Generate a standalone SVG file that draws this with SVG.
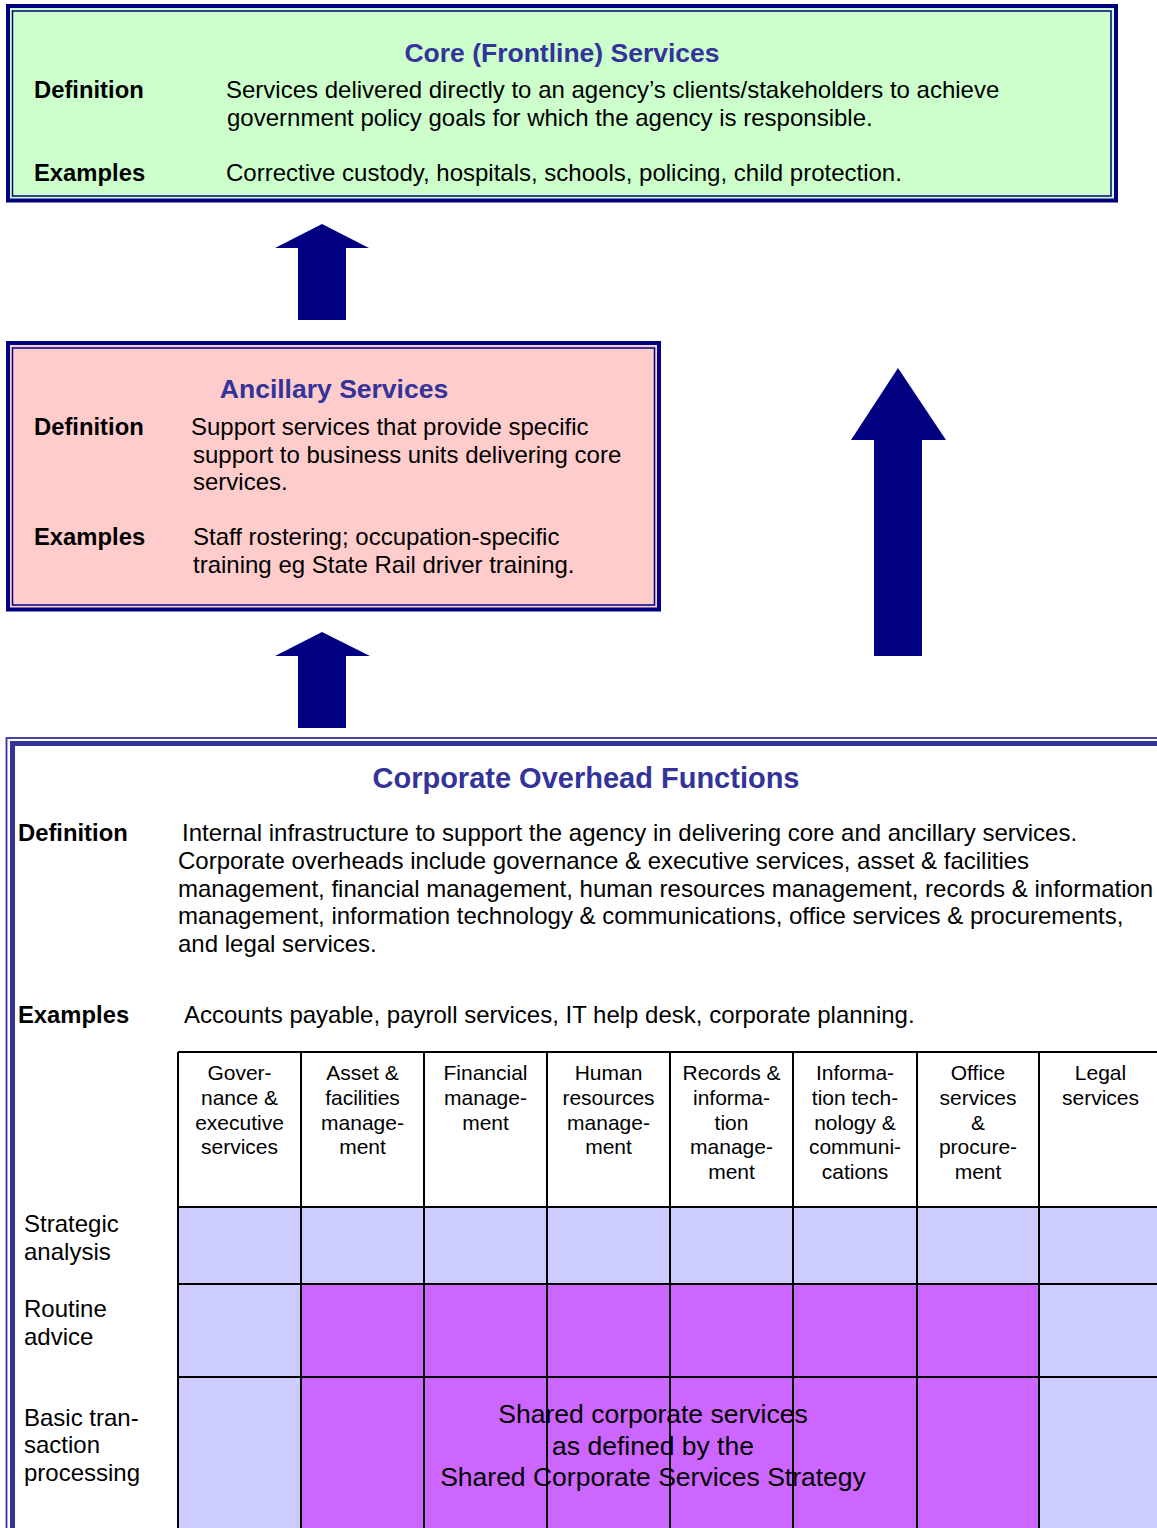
<svg xmlns="http://www.w3.org/2000/svg" width="1157" height="1528" viewBox="0 0 1157 1528">
<style>
text{font-family:"Liberation Sans",Arial,sans-serif;fill:#000}
.t{font-weight:bold;fill:#333399;text-anchor:middle}
.lb{font-weight:bold;font-size:23.8px}
.b{font-size:24px}
.h{font-size:21px;text-anchor:middle}
.r{font-size:24px}
.c{font-size:26.5px;text-anchor:middle}
.out{stroke:#000080;stroke-width:4}
.in{fill:none;stroke:#000080;stroke-width:1.5}
.arrow{fill:#000080}
.grid{stroke:#000;stroke-width:2;fill:none}
.lav{fill:#CCCCFF}
.pur{fill:#CC66FF}
.green{fill:#CCFFCC}
.pink{fill:#FFCCCC}
</style>
<g id="core">
<rect x="8" y="6" width="1108" height="194.5" class="out green"/>
<rect x="12.5" y="11" width="1098.5" height="185" class="in"/>
<text class="t" x="562" y="62" font-size="26.5">Core (Frontline) Services</text>
<text class="lb" x="34" y="98">Definition</text>
<text class="b" x="226" y="98">Services delivered directly to an agency’s clients/stakeholders to achieve</text>
<text class="b" x="227" y="126">government policy goals for which the agency is responsible.</text>
<text class="lb" x="34" y="181">Examples</text>
<text class="b" x="226" y="181">Corrective custody, hospitals, schools, policing, child protection.</text>
</g>
<g id="ancillary">
<rect x="8" y="343" width="651" height="266.5" class="out pink"/>
<rect x="12.5" y="348" width="642" height="257" class="in"/>
<text class="t" x="334" y="398" font-size="26.5">Ancillary Services</text>
<text class="lb" x="34" y="435">Definition</text>
<text class="b" x="191" y="435">Support services that provide specific</text>
<text class="b" x="193" y="463">support to business units delivering core</text>
<text class="b" x="193" y="490">services.</text>
<text class="lb" x="34" y="545">Examples</text>
<text class="b" x="193" y="545">Staff rostering; occupation-specific</text>
<text class="b" x="193" y="573">training eg State Rail driver training.</text>
</g>
<g id="connectors">
<polygon class="arrow" points="322,224 369,248 346,248 346,320 298,320 298,248 275,248"/>
<polygon class="arrow" points="322,632 370,656 346,656 346,728 298,728 298,656 275,656"/>
<polygon class="arrow" points="898,368 946,440 922,440 922,656 874,656 874,440 851,440"/>
</g>
<g id="corporate">
<rect x="6.5" y="738" width="1200" height="900" fill="#fff" stroke="#333399" stroke-width="1.8"/>
<rect x="12.5" y="743.5" width="1200" height="900" fill="none" stroke="#333399" stroke-width="5"/>
<text class="t" x="586" y="788" font-size="29">Corporate Overhead Functions</text>
<text class="lb" x="18" y="841">Definition</text>
<text class="b" x="182" y="841">Internal infrastructure to support the agency in delivering core and ancillary services.</text>
<text class="b" x="178" y="869">Corporate overheads include governance &amp; executive services, asset &amp; facilities</text>
<text class="b" x="178" y="897">management, financial management, human resources management, records &amp; information</text>
<text class="b" x="178" y="924">management, information technology &amp; communications, office services &amp; procurements,</text>
<text class="b" x="178" y="952">and legal services.</text>
<text class="lb" x="18" y="1023">Examples</text>
<text class="b" x="184" y="1023">Accounts payable, payroll services, IT help desk, corporate planning.</text>
</g>
<g id="table">
<rect x="178" y="1052" width="990" height="155" fill="#fff"/>
<rect class="lav" x="178" y="1207" width="990" height="77"/>
<rect class="lav" x="178" y="1284" width="123" height="250"/>
<rect class="pur" x="301" y="1284" width="738" height="250"/>
<rect class="lav" x="1039" y="1284" width="130" height="250"/>
<text class="h"><tspan x="239.5" y="1080">Gover-</tspan><tspan x="239.5" y="1105">nance &amp;</tspan><tspan x="239.5" y="1130">executive</tspan><tspan x="239.5" y="1154">services</tspan></text>
<text class="h"><tspan x="362.5" y="1080">Asset &amp;</tspan><tspan x="362.5" y="1105">facilities</tspan><tspan x="362.5" y="1130">manage-</tspan><tspan x="362.5" y="1154">ment</tspan></text>
<text class="h"><tspan x="485.5" y="1080">Financial</tspan><tspan x="485.5" y="1105">manage-</tspan><tspan x="485.5" y="1130">ment</tspan></text>
<text class="h"><tspan x="608.5" y="1080">Human</tspan><tspan x="608.5" y="1105">resources</tspan><tspan x="608.5" y="1130">manage-</tspan><tspan x="608.5" y="1154">ment</tspan></text>
<text class="h"><tspan x="731.5" y="1080">Records &amp;</tspan><tspan x="731.5" y="1105">informa-</tspan><tspan x="731.5" y="1130">tion</tspan><tspan x="731.5" y="1154">manage-</tspan><tspan x="731.5" y="1179">ment</tspan></text>
<text class="h"><tspan x="855" y="1080">Informa-</tspan><tspan x="855" y="1105">tion tech-</tspan><tspan x="855" y="1130">nology &amp;</tspan><tspan x="855" y="1154">communi-</tspan><tspan x="855" y="1179">cations</tspan></text>
<text class="h"><tspan x="978" y="1080">Office</tspan><tspan x="978" y="1105">services</tspan><tspan x="978" y="1130">&amp;</tspan><tspan x="978" y="1154">procure-</tspan><tspan x="978" y="1179">ment</tspan></text>
<text class="h"><tspan x="1100.5" y="1080">Legal</tspan><tspan x="1100.5" y="1105">services</tspan></text>
<text class="r"><tspan x="24" y="1232">Strategic</tspan><tspan x="24" y="1260">analysis</tspan></text>
<text class="r"><tspan x="24" y="1317">Routine</tspan><tspan x="24" y="1345">advice</tspan></text>
<text class="r"><tspan x="24" y="1426">Basic tran-</tspan><tspan x="24" y="1453">saction</tspan><tspan x="24" y="1481">processing</tspan></text>
<text class="c"><tspan x="653" y="1423">Shared corporate services</tspan><tspan x="653" y="1455">as defined by the</tspan><tspan x="653" y="1486">Shared Corporate Services Strategy</tspan></text>
<path class="grid" d="M178,1052H1168M178,1207H1168M178,1284H1168M178,1377H1168M178,1052V1540M301,1052V1540M424,1052V1540M547,1052V1540M670,1052V1540M793,1052V1540M917,1052V1540M1039,1052V1540"/>
</g>
</svg>
